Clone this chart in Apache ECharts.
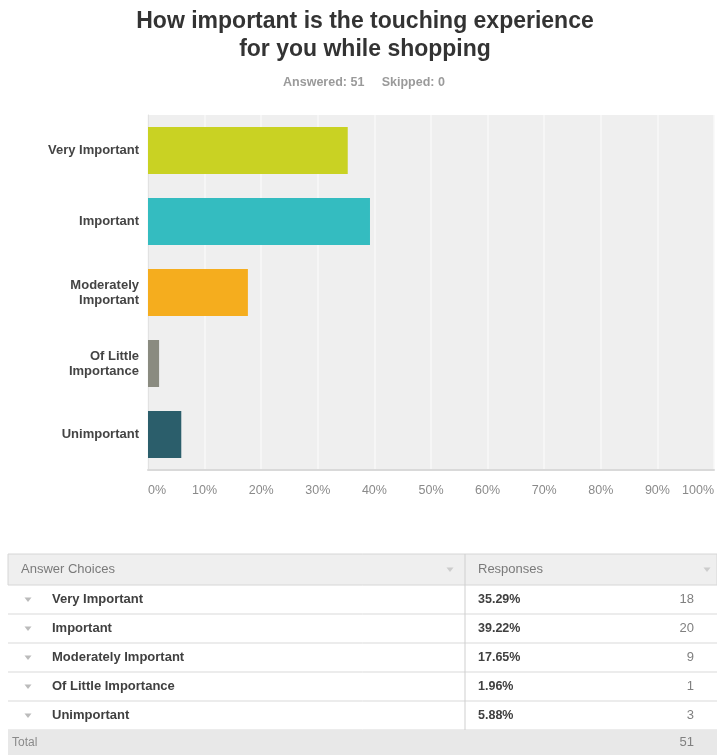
<!DOCTYPE html>
<html>
<head>
<meta charset="utf-8">
<script src="https://cdn.jsdelivr.net/npm/echarts@6/dist/echarts.min.js"></script>
<style>
  html, body { margin: 0; padding: 0; background: #ffffff; }
  #chart { width: 717px; height: 755px; }
</style>
</head>
<body>
<div id="chart"></div>
<script>
// Survey question: answer choices, share of responses (%) and counts
const titleLines = ['How important is the touching experience', 'for you while shopping'];
const answered = 51;
const skipped = 0;
const categories = ['Very Important', 'Important', 'Moderately Important', 'Of Little Importance', 'Unimportant'];
const axisLabels = ['Very Important', 'Important', 'Moderately\nImportant', 'Of Little\nImportance', 'Unimportant'];
const percents = [35.29, 39.22, 17.65, 1.96, 5.88];
const counts = [18, 20, 9, 1, 3];
const total = 51;
const barColors = ['#c9d223', '#34bcc0', '#f5ad1e', '#8a8b80', '#2b5e6b'];
const xTicks = [0, 10, 20, 30, 40, 50, 60, 70, 80, 90, 100];

const FONT = '"Liberation Sans", Arial, sans-serif';
const chart = echarts.init(document.getElementById('chart'), null, { renderer: 'canvas' });

// ---- summary table below the chart ----
const tbl = { left: 8, right: 717, top: 554, headH: 31, rowH: 29, totalH: 25, divX: 465, pctX: 478, cntX: 694 };

function downTri(cx, cy, color) {
  return {
    type: 'polygon', silent: true,
    shape: { points: [[cx - 3.5, cy - 2], [cx + 3.5, cy - 2], [cx, cy + 2.5]] },
    style: { fill: color }
  };
}

const graphics = [];
// title and response summary
graphics.push({
  type: 'text', silent: true, x: 365, y: 8,
  style: { text: titleLines.join('\n'), font: 'bold 23px ' + FONT, fill: '#333333', align: 'center', verticalAlign: 'top', lineHeight: 28 }
});
graphics.push({
  type: 'text', silent: true, x: 364, y: 83,
  style: { text: 'Answered: ' + answered + '     Skipped: ' + skipped, font: 'bold 12.5px ' + FONT, fill: '#9a9a9a', align: 'center', verticalAlign: 'middle' }
});

const headTop = tbl.top;
const bodyTop = headTop + tbl.headH;
const totalTop = bodyTop + tbl.rowH * categories.length;
const W = tbl.right - tbl.left;

// header band
graphics.push({ type: 'rect', silent: true, shape: { x: tbl.left, y: headTop, width: W, height: tbl.headH },
  style: { fill: '#efefef', stroke: '#d6d6d6', lineWidth: 1 } });
graphics.push({ type: 'text', silent: true, x: 21, y: headTop + tbl.headH / 2,
  style: { text: 'Answer Choices', font: '13px ' + FONT, fill: '#7a7a7a', verticalAlign: 'middle' } });
graphics.push({ type: 'text', silent: true, x: tbl.pctX, y: headTop + tbl.headH / 2,
  style: { text: 'Responses', font: '13px ' + FONT, fill: '#7a7a7a', verticalAlign: 'middle' } });
graphics.push(downTri(450, headTop + tbl.headH / 2, '#cccccc'));
graphics.push(downTri(707, headTop + tbl.headH / 2, '#cccccc'));

// body rows
categories.forEach(function (name, i) {
  const y0 = bodyTop + i * tbl.rowH;
  const cy = y0 + tbl.rowH / 2;
  graphics.push({ type: 'line', silent: true, shape: { x1: tbl.left, y1: y0 + tbl.rowH, x2: tbl.right, y2: y0 + tbl.rowH },
    style: { stroke: '#d9d9d9', lineWidth: 1 } });
  graphics.push(downTri(28, cy, '#bbbbbb'));
  graphics.push({ type: 'text', silent: true, x: 52, y: cy,
    style: { text: name, font: 'bold 13px ' + FONT, fill: '#404040', verticalAlign: 'middle' } });
  graphics.push({ type: 'text', silent: true, x: tbl.pctX, y: cy,
    style: { text: percents[i].toFixed(2) + '%', font: 'bold 12.5px ' + FONT, fill: '#404040', verticalAlign: 'middle' } });
  graphics.push({ type: 'text', silent: true, x: tbl.cntX, y: cy,
    style: { text: String(counts[i]), font: '13px ' + FONT, fill: '#808080', align: 'right', verticalAlign: 'middle' } });
});

// column divider
graphics.push({ type: 'line', silent: true, shape: { x1: tbl.divX, y1: headTop, x2: tbl.divX, y2: totalTop },
  style: { stroke: '#cfcfcf', lineWidth: 1 } });

// total row
graphics.push({ type: 'rect', silent: true, shape: { x: tbl.left, y: totalTop, width: W, height: tbl.totalH },
  style: { fill: '#e8e8e8' } });
graphics.push({ type: 'text', silent: true, x: 12, y: totalTop + tbl.totalH / 2,
  style: { text: 'Total', font: '12px ' + FONT, fill: '#8a8a8a', verticalAlign: 'middle' } });
graphics.push({ type: 'text', silent: true, x: tbl.cntX, y: totalTop + tbl.totalH / 2,
  style: { text: String(total), font: '13px ' + FONT, fill: '#808080', align: 'right', verticalAlign: 'middle' } });

const option = {
  animation: false,
  backgroundColor: '#ffffff',
  textStyle: { fontFamily: FONT },
  grid: {
    left: 148, right: 1, top: 115, bottom: 285,
    show: true, backgroundColor: '#efefef', borderWidth: 0
  },
  xAxis: {
    type: 'value', min: xTicks[0], max: xTicks[xTicks.length - 1], interval: xTicks[1] - xTicks[0],
    axisLine: { show: true, lineStyle: { color: '#d9d9d9', width: 2 } },
    axisTick: { show: false },
    splitLine: { show: true, lineStyle: { color: '#f9f9f9', width: 1.5 } },
    axisLabel: {
      formatter: '{value}%', color: '#8a8a8a', fontSize: 12.5, margin: 14,
      alignMinLabel: 'left', alignMaxLabel: 'right'
    }
  },
  yAxis: {
    type: 'category', inverse: true, data: axisLabels,
    axisLine: { show: true, lineStyle: { color: '#e2e2e2', width: 1 } },
    axisTick: { show: false },
    splitLine: { show: false },
    axisLabel: { color: '#444444', fontSize: 13, fontWeight: 'bold', margin: 9, lineHeight: 15, align: 'right' }
  },
  series: [{
    type: 'bar', barWidth: 47, silent: true,
    data: percents.map(function (v, i) { return { value: v, itemStyle: { color: barColors[i] } }; })
  }],
  graphic: { elements: graphics }
};

chart.setOption(option);
</script>
</body>
</html>
